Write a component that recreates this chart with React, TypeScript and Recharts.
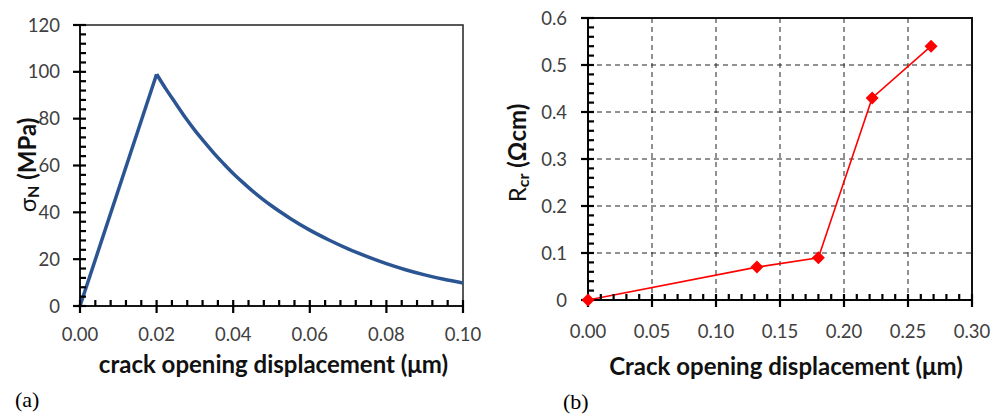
import React from "react";
import {
  ComposedChart,
  Line,
  Scatter,
  XAxis,
  YAxis,
  CartesianGrid,
  ReferenceArea,
} from "recharts";

// (a) normal stress vs crack opening
const codA = [0, 0.02, 0.0225, 0.025, 0.0275, 0.03, 0.0325, 0.035, 0.0375, 0.04, 0.0425, 0.045, 0.0475, 0.05, 0.055, 0.06, 0.065, 0.07, 0.075, 0.08, 0.085, 0.09, 0.095, 0.1];
const sigmaN = [0, 99, 92.5, 86.5, 80.5, 75, 70, 65.2, 60.8, 56.6, 52.8, 49.2, 45.9, 42.8, 37.3, 32.4, 28.2, 24.4, 21.1, 18.1, 15.5, 13.3, 11.4, 9.8];
const peakA = 0.02;
const xTicksA = [0, 0.02, 0.04, 0.06, 0.08, 0.1];
const yTicksA = [0, 20, 40, 60, 80, 100, 120];

// (b) crack resistance vs crack opening
const codB = [0, 0.132, 0.18, 0.222, 0.268];
const rCr = [0, 0.07, 0.09, 0.43, 0.54];
const xTicksB = [0, 0.05, 0.1, 0.15, 0.2, 0.25, 0.3];
const yTicksB = [0, 0.1, 0.2, 0.3, 0.4, 0.5, 0.6];

// rising branch is straight, softening branch is a smooth curve
const dataA = codA.map((x, i) => ({
  x,
  up: x <= peakA ? sigmaN[i] : null,
  down: x >= peakA ? sigmaN[i] : null,
}));
const dataB = codB.map((x, i) => ({ x, y: rCr[i] }));

const steps = (from: number, to: number, step: number) => {
  const out: number[] = [];
  for (let v = from; v <= to + step / 2; v += step) out.push(+v.toFixed(4));
  return out;
};
const isMajor = (majors: number[], v: number) => majors.some((m) => Math.abs(m - v) < 1e-9);

// tick marks as scatter points sitting on the axes
const xMarks = (to: number, step: number, majors: number[]) =>
  steps(0, to, step).map((v) => ({ x: v, y: 0, major: isMajor(majors, v) }));
const yMarks = (to: number, step: number, majors: number[]) =>
  steps(0, to, step).map((v) => ({ x: 0, y: v, major: isMajor(majors, v) }));

const majorOf = (p: any) => Boolean(p.payload?.major ?? p.major);

const XMark = (p: any) => {
  const major = majorOf(p);
  return (
    <path
      d={`M${p.cx},${p.cy - 6}L${p.cx},${p.cy + (major ? 7 : 0)}`}
      stroke="#000"
      strokeWidth={2.2}
      fill="none"
    />
  );
};
const YMark = (p: any) => {
  const major = majorOf(p);
  return (
    <path
      d={`M${p.cx - (major ? 7 : 0)},${p.cy}L${p.cx + 6},${p.cy}`}
      stroke="#000"
      strokeWidth={2.2}
      fill="none"
    />
  );
};

const FONT = "Lato, 'Open Sans', sans-serif";
const tickStyle = { fill: "#404040", fontSize: 18.5, fontFamily: FONT };

const Diamond = (props: any) => {
  const { cx, cy, index } = props;
  const r = 6.5;
  return (
    <path
      key={`d-${index}`}
      d={`M${cx},${cy - r}L${cx + r},${cy}L${cx},${cy + r}L${cx - r},${cy}Z`}
      fill="#ff0000"
    />
  );
};

const xTitle = (text: string, dy: number, dx: number) => (props: any) => {
  const vb = props.viewBox;
  return (
    <text
      x={vb.x + vb.width / 2 + dx}
      y={vb.y + dy}
      textAnchor="middle"
      fontFamily={FONT}
      fontWeight={700}
      fontSize={24}
      fill="#111"
    >
      {text}
    </text>
  );
};

const yTitle = (main: string, sub: string, rest: string, cx: number, cy: number) => () => (
  <text
    x={cx}
    y={cy}
    transform={`rotate(-90, ${cx}, ${cy})`}
    textAnchor="middle"
    dominantBaseline="central"
    fontFamily={FONT}
    fontWeight={700}
    fontSize={24}
    fill="#111"
  >
    <tspan fontWeight={400}>{main}</tspan>
    <tspan dy={6} fontSize={16}>{sub}</tspan>
    <tspan dy={-6}>{rest}</tspan>
  </text>
);

export default function App() {
  return (
    <div style={{ position: "absolute", left: 0, top: 0, width: 995, height: 414, background: "#fff" }}>
      <div style={{ position: "absolute", left: 0, top: 0 }}>
        <ComposedChart width={500} height={414} data={dataA} margin={{ top: 25, right: 37, bottom: 28, left: 0 }}>
          <XAxis
            dataKey="x"
            type="number"
            domain={[0, 0.1]}
            ticks={xTicksA}
            interval={0}
            tickFormatter={(v: number) => v.toFixed(2)}
            tick={tickStyle}
            tickLine={false}
            tickSize={7}
            tickMargin={15}
            height={80}
            stroke="#000"
            strokeWidth={1.5}
            label={xTitle("crack opening displacement (\u03bcm)", 67, 2)}
          />
          <YAxis
            type="number"
            domain={[0, 120]}
            ticks={yTicksA}
            interval={0}
            tick={tickStyle}
            tickLine={false}
            tickSize={6}
            tickMargin={14}
            width={80}
            stroke="#000"
            strokeWidth={1.5}
            label={yTitle("\u03c3", "N", " (MPa)", 26, 165)}
          />
          <ReferenceArea x1={0} x2={0.1} y1={0} y2={120} fill="none" stroke="#222" strokeWidth={1.5} />
          <Scatter data={xMarks(0.1, 0.004, xTicksA)} dataKey="y" shape={XMark} isAnimationActive={false} />
          <Scatter data={yMarks(120, 4, yTicksA)} dataKey="y" shape={YMark} isAnimationActive={false} />
          <Line
            dataKey="up"
            type="linear"
            stroke="#2b5592"
            strokeWidth={3.5}
            dot={false}
            isAnimationActive={false}
          />
          <Line
            dataKey="down"
            type="monotone"
            stroke="#2b5592"
            strokeWidth={3.5}
            dot={false}
            isAnimationActive={false}
          />
        </ComposedChart>
      </div>

      <div style={{ position: "absolute", left: 500, top: 0 }}>
        <ComposedChart width={495} height={414} data={dataB} margin={{ top: 18, right: 23, bottom: 34, left: 0 }}>
          <CartesianGrid
            stroke="#222"
            strokeDasharray="5 4"
            strokeWidth={1}
            horizontalValues={yTicksB}
            verticalValues={xTicksB}
          />
          <XAxis
            dataKey="x"
            type="number"
            domain={[0, 0.3]}
            ticks={xTicksB}
            interval={0}
            tickFormatter={(v: number) => v.toFixed(2)}
            tick={tickStyle}
            tickLine={false}
            tickSize={7}
            tickMargin={18}
            height={80}
            stroke="#000"
            strokeWidth={1.5}
            label={xTitle("Crack opening displacement (\u03bcm)", 75, 6)}
          />
          <YAxis
            type="number"
            domain={[0, 0.6]}
            ticks={yTicksB}
            interval={0}
            tickFormatter={(v: number) => (v === 0 ? "0" : String(v))}
            tick={tickStyle}
            tickLine={false}
            tickSize={6}
            tickMargin={15}
            width={88}
            stroke="#000"
            strokeWidth={1.5}
            label={yTitle("R", "cr", " (\u03a9cm)", 16, 153)}
          />
          <ReferenceArea x1={0} x2={0.3} y1={0} y2={0.6} fill="none" stroke="#111" strokeWidth={2} />
          <Scatter data={xMarks(0.3, 0.01, xTicksB)} dataKey="y" shape={XMark} isAnimationActive={false} />
          <Scatter data={yMarks(0.6, 0.02, yTicksB)} dataKey="y" shape={YMark} isAnimationActive={false} />
          <Line
            dataKey="y"
            type="linear"
            stroke="#ff0000"
            strokeWidth={1.6}
            dot={Diamond}
            isAnimationActive={false}
          />
        </ComposedChart>
      </div>

      <div style={{ position: "absolute", left: 15, top: 387, fontFamily: "'Liberation Serif', serif", fontSize: 22 }}>(a)</div>
      <div style={{ position: "absolute", left: 563, top: 389, fontFamily: "'Liberation Serif', serif", fontSize: 22 }}>(b)</div>
    </div>
  );
}
